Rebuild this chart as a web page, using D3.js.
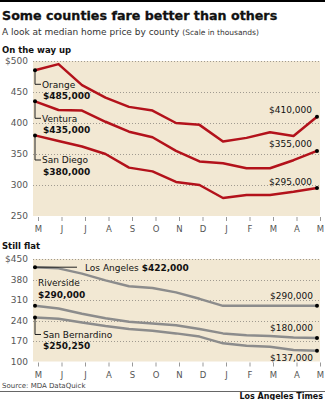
<!DOCTYPE html>
<html>
<head>
<meta charset="utf-8">
<script src="https://cdn.jsdelivr.net/npm/d3@7"></script>
<style>
  body { margin: 0; background: #fff; }
  svg text { font-family: "DejaVu Sans", sans-serif; }
</style>
</head>
<body>
<svg id="chart" width="325" height="400"></svg>
<script>
// Median home price by month, in thousands of dollars
var months = ["M", "J", "J", "A", "S", "O", "N", "D", "J", "F", "M", "A", "M"];

var orange        = [485, 495, 461, 441, 426, 420, 400, 397, 370, 376, 385, 379, 410];
var ventura       = [435, 421, 420, 402, 386, 377, 355, 338, 335, 327, 327, 340, 355];
var sanDiego      = [380, 371, 362, 350, 328, 322, 305, 300, 279, 284, 284, 289, 295];

var losAngeles    = [422, 418, 400, 377, 357, 351, 336, 314, 290, 290, 290, 290, 290];
var riverside     = [290, 281, 263, 248, 236, 230, 224, 211, 196, 190, 187, 182, 180];
var sanBernardino = [250.25, 246, 233, 221, 211, 205, 196, 185, 162, 154, 150, 139, 137];

var upTicks   = [250, 300, 350, 400, 450, 500];
var flatTicks = [100, 170, 240, 310, 380, 450];

var RED = "#b3121b", GRAY = "#8c8c8c", PAPER = "#f2e8d3";

var svg = d3.select("#chart");

var x = d3.scaleLinear().domain([0, months.length - 1]).range([35, 317]);

var money = function(v) { return "$" + d3.format(",")(Math.round(v * 1000)); };

function addText(g, px, py, str, size, weight) {
    return g.append("text")
            .attr("x", px)
            .attr("y", py)
            .attr("font-size", size)
            .attr("font-weight", weight || "normal")
            .attr("fill", "#111")
            .text(str);
}

// Background, grid, axes and lines for one panel; returns its y scale
function drawPanel(ticks, top, bottom, series, color) {
    var y = d3.scaleLinear().domain([ticks[0], ticks[ticks.length - 1]]).range([bottom, top]);
    var g = svg.append("g");

    g.append("rect")
     .attr("x", 33)
     .attr("y", top)
     .attr("width", 320 - 33)
     .attr("height", bottom - top)
     .attr("fill", PAPER);

    g.selectAll(".grid")
     .data(ticks.slice(1))
     .enter()
     .append("line")
     .attr("x1", 33)
     .attr("x2", 320)
     .attr("y1", function(d) { return Math.round(y(d)) + 0.5; })
     .attr("y2", function(d) { return Math.round(y(d)) + 0.5; })
     .attr("stroke", "#a09a90")
     .attr("stroke-width", 1)
     .attr("stroke-dasharray", "1,2");

    var yAxis = g.append("g")
                 .attr("transform", "translate(31,0)")
                 .call(d3.axisLeft(y)
                         .tickValues(ticks)
                         .tickSize(0)
                         .tickPadding(3)
                         .tickFormat(function(d, i) { return i === ticks.length - 1 ? "$" + d : d; }));
    yAxis.select(".domain").remove();
    yAxis.attr("font-family", null).attr("font-size", 9);
    yAxis.selectAll("text").attr("fill", "#555");

    // month ticks sit a few pixels right of the data points
    var xAxis = g.append("g")
                 .attr("transform", "translate(3," + (bottom + 1) + ")")
                 .call(d3.axisBottom(x)
                         .tickValues(d3.range(months.length))
                         .tickSize(4)
                         .tickPadding(5)
                         .tickFormat(function(i) { return months[i]; }));
    xAxis.select(".domain").remove();
    xAxis.attr("font-family", null).attr("font-size", 8.5);
    xAxis.selectAll("line").attr("stroke", "#999");
    xAxis.selectAll("text").attr("fill", "#555");

    var line = d3.line()
                 .x(function(d, i) { return x(i); })
                 .y(function(d) { return y(d); });

    g.selectAll(".series")
     .data(series)
     .enter()
     .append("path")
     .attr("d", line)
     .attr("fill", "none")
     .attr("stroke", color)
     .attr("stroke-width", 2.5)
     .attr("stroke-linejoin", "round");

    return y;
}

// Header
svg.append("rect").attr("width", 325).attr("height", 2).attr("fill", "#000");
addText(svg, 2, 19.5, "Some counties fare better than others", 12.7, "bold")
    .attr("stroke", "#111").attr("stroke-width", 0.3);
var sub = addText(svg, 2, 35, "A look at median home price by county ", 9).attr("fill", "#333");
sub.append("tspan").attr("font-size", 7.5).text("(Scale in thousands)");

// On the way up
addText(svg, 2, 52.5, "On the way up", 8.5, "bold");
var upSeries = [orange, ventura, sanDiego];
var upNames = ["Orange", "Ventura", "San Diego"];
var upDrop = [14, 17, 24.6];           // leader length below the first point
var yUp = drawPanel(upTicks, 61, 216, upSeries, RED);

upSeries.forEach(function(values, k) {
    var x0 = x(0), y0 = yUp(values[0]), ly = y0 + upDrop[k];
    var last = values.length - 1;
    svg.append("path")
       .attr("d", "M" + x0 + "," + y0 + "V" + ly + "H" + (x0 + 6))
       .attr("fill", "none")
       .attr("stroke", "#222")
       .attr("stroke-width", 1);
    addText(svg, x0 + 7, ly + 3.3, upNames[k], 9);
    addText(svg, x0 + 8, ly + 15, money(values[0]), 9, "bold");
    addText(svg, x(last) - 5, yUp(values[last]) - 3.5, money(values[last]), 9)
        .attr("text-anchor", "end");
});

// Still flat
addText(svg, 2, 248.5, "Still flat", 8.5, "bold");
var flatSeries = [losAngeles, riverside, sanBernardino];
var yFlat = drawPanel(flatTicks, 259, 361.5, flatSeries, GRAY);

var la0 = yFlat(losAngeles[0]);
svg.append("line")
   .attr("x1", x(0)).attr("x2", x(0) + 42)
   .attr("y1", la0).attr("y2", la0)
   .attr("stroke", "#222").attr("stroke-width", 1);
var laText = addText(svg, x(0) + 50, la0 + 3.3, "Los Angeles ", 9);
laText.append("tspan").attr("font-weight", "bold").text(money(losAngeles[0]));

var rv0 = yFlat(riverside[0]);
addText(svg, x(0) + 3, rv0 - 20, "Riverside", 9);
addText(svg, x(0) + 3, rv0 - 8, money(riverside[0]), 9, "bold");

var sb0 = yFlat(sanBernardino[0]), sbLy = sb0 + 17;
svg.append("path")
   .attr("d", "M" + x(0) + "," + sb0 + "V" + sbLy + "H" + (x(0) + 6))
   .attr("fill", "none")
   .attr("stroke", "#222")
   .attr("stroke-width", 1);
addText(svg, x(0) + 8, sbLy + 3.3, "San Bernardino", 9);
addText(svg, x(0) + 8, sbLy + 15, money(sanBernardino[0]), 9, "bold");

var lastIdx = months.length - 1;
var flatEndDy = [-7, -7, 10];
flatSeries.forEach(function(values, k) {
    addText(svg, x(lastIdx) - 4, yFlat(values[lastIdx]) + flatEndDy[k], money(values[lastIdx]), 9)
        .attr("text-anchor", "end");
});

// Point markers at both ends of every line
[[upSeries, yUp], [flatSeries, yFlat]].forEach(function(p) {
    p[0].forEach(function(values) {
        [0, values.length - 1].forEach(function(i) {
            svg.append("circle")
               .attr("cx", x(i))
               .attr("cy", p[1](values[i]))
               .attr("r", 2)
               .attr("fill", "#000");
        });
    });
});

// Footer
addText(svg, 2, 388, "Source: MDA DataQuick", 7).attr("fill", "#444");
svg.append("line")
   .attr("x1", 0).attr("x2", 325)
   .attr("y1", 391.5).attr("y2", 391.5)
   .attr("stroke", "#666").attr("stroke-width", 1);
addText(svg, 323, 399, "Los Angeles Times", 8, "bold")
    .attr("text-anchor", "end")
    .attr("font-family", "'Liberation Serif', serif");
</script>
</body>
</html>
